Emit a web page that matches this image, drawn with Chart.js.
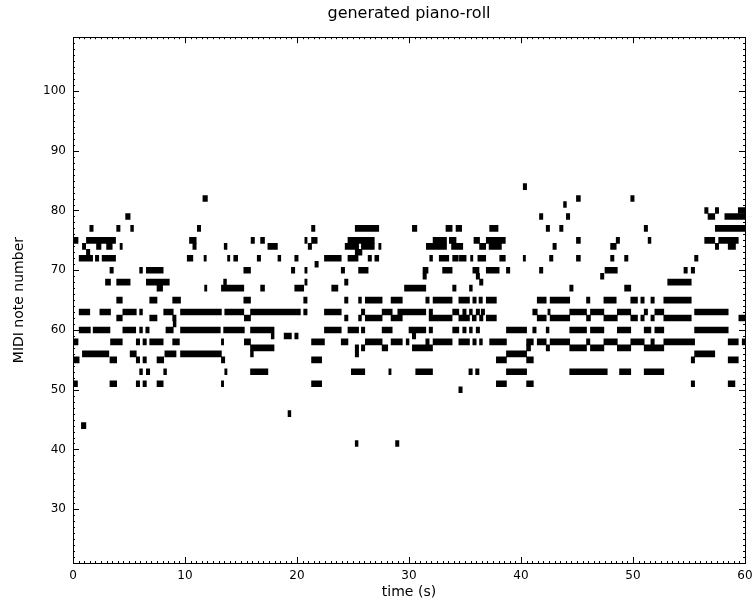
<!DOCTYPE html>
<html>
<head>
<meta charset="utf-8">
<script src="https://cdn.jsdelivr.net/npm/chart.js@4.4.1/dist/chart.umd.min.js"></script>
<style>
  html, body { margin: 0; padding: 0; background: #fff; }
  canvas { display: block; }
</style>
</head>
<body>
<canvas id="pianoRoll" width="752" height="605"></canvas>
<script>
// 음 높이(MIDI)별 노트 구간 [시작, 끝] (초)
const n84 = [[40.2, 40.5]];
const n82 = [[11.6, 12.0], [44.95, 45.3], [49.8, 50.1]];
const n81 = [[43.8, 44.05]];
const n80 = [[56.4, 56.7], [57.35, 57.65], [59.4, 60]];
const n79 = [[4.7, 5.1], [41.65, 41.95], [44.05, 44.35], [56.7, 57.3], [58.2, 60]];
const n77 = [[1.5, 1.8], [3.9, 4.2], [5.15, 5.4], [11.1, 11.4], [21.3, 21.6], [25.2, 27.3], [30.3, 30.7],
  [33.3, 33.85], [34.2, 34.7], [37.2, 37.95], [42.25, 42.55], [43.45, 43.75], [51.0, 51.3], [57.35, 60]];
const n75 = [[0, 0.45], [1.2, 3.8], [10.4, 11.0], [15.9, 16.2], [16.75, 17.1], [20.7, 20.9], [21.3, 21.8],
  [24.55, 26.9], [32.15, 33.35], [33.6, 34.2], [35.8, 36.3], [36.9, 38.6], [44.95, 45.3], [48.5, 48.8],
  [51.35, 51.6], [56.4, 57.3], [57.65, 59.4]];
const n74 = [[0.84, 1.13], [2.1, 2.5], [3.0, 3.5], [4.2, 4.4], [10.7, 11.0], [13.5, 13.75], [17.4, 18.25],
  [21.0, 21.3], [24.3, 25.5], [25.75, 26.9], [27.3, 27.5], [31.55, 33.35], [33.8, 34.8], [36.3, 36.85],
  [37.15, 38.25], [42.85, 43.15], [48.0, 48.5], [57.35, 57.65], [58.5, 59.15]];
const n73 = [[1.2, 1.5], [25.2, 25.8]];
const n72 = [[0.55, 1.75], [2.0, 2.3], [2.6, 3.8], [10.2, 10.7], [11.7, 11.9], [13.8, 14.0], [14.35, 14.7],
  [16.45, 16.75], [18.3, 18.55], [19.8, 20.1], [22.45, 23.95], [24.55, 25.45], [26.35, 26.65], [26.95, 27.3],
  [31.85, 32.1], [32.7, 33.55], [33.9, 34.4], [34.5, 35.1], [35.5, 35.7], [36.15, 36.85], [38.1, 38.6],
  [40.2, 40.4], [42.55, 42.85], [44.95, 45.3], [48.0, 48.3], [49.25, 49.55], [55.5, 55.8]];
const n71 = [[21.6, 21.9]];
const n70 = [[3.3, 3.6], [5.95, 6.2], [6.55, 8.05], [15.25, 15.85], [19.5, 19.8], [20.7, 20.9], [23.95, 24.25],
  [25.5, 26.35], [31.25, 31.7], [33.0, 33.85], [35.7, 36.25], [36.9, 38.05], [38.7, 39.0], [41.65, 41.95],
  [47.5, 48.6], [54.55, 54.85], [55.2, 55.5]];
const n69 = [[31.25, 31.55], [36.0, 36.3], [47.1, 47.4]];
const n68 = [[2.9, 3.35], [3.9, 5.1], [6.55, 8.6], [13.45, 13.7], [20.7, 20.9], [24.25, 24.55], [36.3, 36.6],
  [53.1, 55.2]];
const n67 = [[7.5, 8.0], [11.75, 11.95], [13.25, 15.25], [16.75, 17.1], [19.8, 20.6], [23.1, 23.65],
  [29.6, 31.5], [33.9, 34.2], [35.4, 35.65], [44.35, 44.65], [49.25, 49.8]];
const n65 = [[3.9, 4.4], [6.85, 7.5], [8.9, 9.6], [15.25, 15.85], [20.6, 20.9], [24.25, 24.55], [25.5, 25.75],
  [26.1, 27.6], [28.4, 29.4], [31.5, 31.8], [32.15, 33.85], [34.45, 35.4], [35.7, 36.0], [36.25, 36.55],
  [36.9, 37.8], [41.45, 42.25], [42.6, 44.35], [45.85, 46.15], [47.4, 48.5], [49.8, 50.4], [50.7, 51.0],
  [51.6, 51.9], [52.75, 55.2]];
const n63 = [[0.55, 1.5], [2.4, 3.35], [4.45, 5.65], [5.95, 6.2], [8.1, 8.95], [9.6, 13.25], [13.55, 15.25],
  [15.85, 20.3], [20.6, 20.9], [22.45, 23.95], [25.75, 26.05], [27.6, 28.5], [29.0, 31.5], [31.8, 32.1],
  [33.9, 34.45], [34.8, 35.1], [35.4, 35.65], [36.0, 36.3], [36.45, 36.75], [41.05, 41.45], [42.4, 42.6],
  [44.35, 45.85], [46.2, 47.4], [48.6, 49.8], [51.0, 51.3], [51.95, 52.75], [55.5, 58.5]];
const n62 = [[3.9, 4.4], [6.85, 7.5], [8.9, 9.2], [15.3, 15.85], [24.25, 24.55], [25.5, 25.75], [26.1, 27.6],
  [28.4, 29.4], [31.8, 33.85], [34.45, 35.4], [35.65, 36.0], [36.3, 36.6], [36.9, 37.8], [41.45, 42.25],
  [42.6, 44.35], [45.85, 46.2], [47.4, 48.6], [49.8, 50.4], [50.7, 51.0], [51.6, 51.9], [52.75, 55.2],
  [59.45, 60]];
const n61 = [[8.95, 9.2]];
const n60 = [[0.55, 1.55], [1.8, 3.3], [4.45, 5.6], [5.95, 6.2], [6.5, 6.8], [8.3, 8.95], [9.6, 13.15],
  [13.45, 15.3], [15.85, 17.95], [22.45, 23.95], [24.55, 25.5], [25.75, 26.05], [27.6, 28.5], [30.0, 31.5],
  [31.8, 32.1], [33.9, 34.45], [34.8, 35.1], [35.4, 35.65], [36.0, 36.3], [38.7, 40.5], [41.05, 41.35],
  [42.25, 42.5], [44.35, 45.85], [46.2, 47.4], [48.6, 49.8], [51.0, 51.6], [51.95, 52.75], [55.5, 58.5]];
const n59 = [[17.7, 17.95], [18.85, 19.5], [19.8, 20.1], [30.3, 30.6]];
const n58 = [[0, 0.45], [3.35, 4.4], [5.65, 5.95], [6.25, 6.55], [6.85, 8.05], [8.9, 9.5], [13.25, 13.45],
  [15.3, 15.85], [21.3, 22.45], [23.95, 24.55], [26.1, 27.6], [28.4, 29.4], [29.75, 30.0], [31.5, 31.8],
  [32.15, 33.85], [34.45, 35.4], [35.7, 36.0], [36.3, 36.55], [37.2, 38.7], [40.5, 41.1], [41.45, 42.25],
  [42.6, 44.35], [45.85, 46.15], [47.4, 48.6], [49.8, 51.0], [51.6, 51.9], [52.75, 55.5], [58.5, 59.4],
  [59.75, 60]];
const n57 = [[15.85, 17.95], [25.2, 25.5], [25.75, 26.05], [27.6, 28.1], [30.3, 32.1], [40.5, 40.85],
  [42.25, 42.55], [44.35, 45.85], [46.2, 47.4], [48.6, 49.8], [51.0, 52.75]];
const n56 = [[0.84, 3.2], [5.1, 5.65], [8.2, 9.2], [9.6, 13.25], [15.85, 16.1], [25.2, 25.5], [38.7, 40.5],
  [55.5, 57.3]];
const n55 = [[0, 0.55], [3.3, 3.9], [5.65, 5.95], [6.25, 6.55], [7.5, 8.1], [13.25, 13.55], [21.3, 22.2],
  [37.8, 38.7], [40.5, 41.1], [55.2, 55.5], [58.5, 59.4]];
const n53 = [[5.95, 6.2], [6.55, 6.85], [8.1, 8.35], [13.55, 13.75], [15.85, 17.4], [24.85, 26.05],
  [28.2, 28.4], [30.6, 32.1], [35.35, 35.65], [35.95, 36.25], [38.7, 40.5], [44.35, 47.7], [48.8, 49.8],
  [51.0, 52.75]];
const n51 = [[0, 0.4], [3.3, 3.9], [5.65, 5.95], [6.25, 6.55], [7.5, 8.05], [13.25, 13.45], [21.3, 22.2],
  [37.8, 38.7], [40.5, 41.1], [55.2, 55.5], [58.5, 59.1]];
const n50 = [[34.45, 34.75]];
const n46 = [[19.2, 19.45]];
const n44 = [[0.75, 1.15]];
const n41 = [[25.2, 25.45], [28.8, 29.1]];

const pitchList = [84, 82, 81, 80, 79, 77, 75, 74, 73, 72, 71, 70, 69, 68, 67, 65, 63, 62, 61, 60,
  59, 58, 57, 56, 55, 53, 51, 50, 46, 44, 41];
const rowList = [n84, n82, n81, n80, n79, n77, n75, n74, n73, n72, n71, n70, n69, n68, n67, n65, n63, n62, n61, n60,
  n59, n58, n57, n56, n55, n53, n51, n50, n46, n44, n41];

// 축 눈금
const xTicks = [0, 10, 20, 30, 40, 50, 60];
const yTicks = [30, 40, 50, 60, 70, 80, 90, 100];
const xRange = [0, 60];
const yRange = [21, 109];

const FONT = "'DejaVu Sans', sans-serif";

// 노트 데이터 생성
const notes = [];
pitchList.forEach((p, i) => {
    rowList[i].forEach(span => notes.push({ x: span, y: p }));
});

// 테두리 + 안쪽 눈금 (matplotlib 스타일)
const frameTicks = {
    id: 'frameTicks',
    afterDatasetsDraw(chart) {
        const { ctx, chartArea: a, scales: { x, y } } = chart;
        ctx.save();
        ctx.strokeStyle = '#000';
        ctx.lineWidth = 1;
        ctx.beginPath();

        // 작은 눈금
        for (let v = yRange[0]; v <= yRange[1]; v += 1) {
            const py = Math.round(y.getPixelForValue(v)) + 0.5;
            ctx.moveTo(a.left, py); ctx.lineTo(a.left + 2, py);
            ctx.moveTo(a.right, py); ctx.lineTo(a.right - 2, py);
        }
        for (let v = xRange[0]; v <= xRange[1]; v += 0.5) {
            const px = Math.round(x.getPixelForValue(v)) + 0.5;
            ctx.moveTo(px, a.bottom); ctx.lineTo(px, a.bottom - 2);
            ctx.moveTo(px, a.top); ctx.lineTo(px, a.top + 2);
        }

        // 큰 눈금
        yTicks.forEach(v => {
            const py = Math.round(y.getPixelForValue(v)) + 0.5;
            ctx.moveTo(a.left, py); ctx.lineTo(a.left + 6, py);
            ctx.moveTo(a.right, py); ctx.lineTo(a.right - 6, py);
        });
        xTicks.forEach(v => {
            const px = Math.round(x.getPixelForValue(v)) + 0.5;
            ctx.moveTo(px, a.bottom); ctx.lineTo(px, a.bottom - 6);
            ctx.moveTo(px, a.top); ctx.lineTo(px, a.top + 6);
        });
        ctx.stroke();

        ctx.strokeRect(Math.round(a.left) + 0.5, Math.round(a.top) + 0.5,
            Math.round(a.right - a.left), Math.round(a.bottom - a.top));
        ctx.restore();
    }
};

const ctx = document.getElementById('pianoRoll').getContext('2d');

window.pianoChart = new Chart(ctx, {
    type: 'bar',
    data: {
        datasets: [{
            data: notes,
            backgroundColor: '#000',
            borderWidth: 0,
            barPercentage: 1,
            categoryPercentage: 1
        }]
    },
    options: {
        indexAxis: 'y',
        responsive: false,
        animation: false,
        layout: { padding: { left: 0, right: 7, top: 0, bottom: 0 } },
        plugins: {
            legend: { display: false },
            tooltip: { enabled: false },
            title: {
                display: true,
                text: 'generated piano-roll',
                fullSize: false,
                color: '#000',
                font: { family: FONT, size: 16, weight: 'normal' },
                padding: { top: 4, bottom: 14 }
            }
        },
        scales: {
            x: {
                type: 'linear',
                min: xRange[0],
                max: xRange[1],
                grid: { display: false, drawTicks: false },
                border: { display: false },
                afterBuildTicks: s => { s.ticks = xTicks.map(v => ({ value: v })); },
                afterFit: s => { s.height = 42; s.paddingLeft = 0; s.paddingRight = 0; },
                ticks: {
                    color: '#000',
                    padding: 6,
                    maxRotation: 0,
                    autoSkip: false,
                    font: { family: FONT, size: 12 }
                },
                title: {
                    display: true,
                    text: 'time (s)',
                    color: '#000',
                    font: { family: FONT, size: 14 },
                    padding: { top: 0, bottom: 4 }
                }
            },
            y: {
                type: 'linear',
                min: yRange[0],
                max: yRange[1],
                offset: false,
                grid: { display: false, drawTicks: false },
                border: { display: false },
                afterBuildTicks: s => { s.ticks = yTicks.map(v => ({ value: v })); },
                afterFit: s => { s.width = 73; s.paddingTop = 0; s.paddingBottom = 0; },
                ticks: {
                    color: '#000',
                    padding: 7,
                    autoSkip: false,
                    font: { family: FONT, size: 12 }
                },
                title: {
                    display: true,
                    text: 'MIDI note number',
                    color: '#000',
                    font: { family: FONT, size: 14 },
                    padding: { top: 11, bottom: 0 }
                }
            }
        }
    },
    plugins: [frameTicks]
});
</script>
</body>
</html>
